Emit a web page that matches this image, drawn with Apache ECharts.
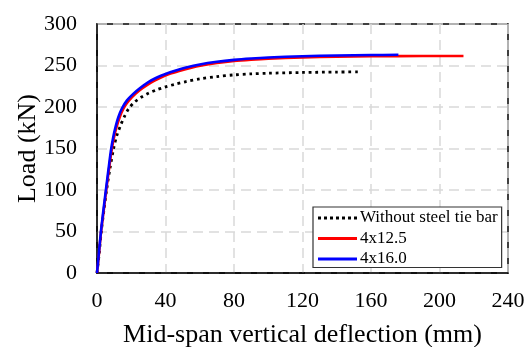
<!DOCTYPE html>
<html>
<head>
<meta charset="utf-8">
<script src="https://cdn.jsdelivr.net/npm/echarts@6/dist/echarts.min.js"></script>
<style>
  html, body { margin: 0; padding: 0; background: #fff; overflow: hidden; }
  #chart { width: 526px; height: 347px; }
</style>
</head>
<body>
<div id="chart"></div>
<script>
// Load–deflection curves: [deflection (mm), load (kN)]
const seriesNames = ['Without steel tie bar', '4x12.5', '4x16.0'];

const withoutTieBar = [
  [0, 0], [1.2, 22], [2.5, 50], [4, 75], [5.6, 100], [7.5, 125], [9.7, 150],
  [11.5, 165], [13.6, 177], [16, 188.5], [18.5, 198], [22, 206], [26, 212],
  [30, 216.5], [34.6, 220.5], [40, 224.3], [45.4, 227.3], [52, 230.6],
  [60, 233.8], [70, 236.7], [80, 238.7], [90, 239.9], [100, 240.7],
  [120, 241.6], [140, 242.1], [154, 242.3]
];

const bar12_5 = [
  [0, 0], [1.1, 22], [2.4, 50], [3.9, 75], [5.4, 100], [7, 125], [8.7, 150],
  [10, 164], [11.3, 175], [13.3, 188], [15.5, 198.5], [18.6, 207.5], [22.3, 215.5],
  [26.5, 222.5], [31.5, 229.5], [37, 235.3], [42.5, 240], [48, 243.5],
  [54, 246.8], [61, 250], [70, 253], [80, 255.5], [90, 257.1], [100, 258.3],
  [120, 259.8], [140, 260.6], [160, 261.1], [190, 261.4], [214, 261.5]
];

const bar16_0 = [
  [0, 0], [1, 22], [2.3, 50], [3.7, 75], [5.2, 100], [6.7, 125], [8.3, 150],
  [9.5, 164], [10.7, 175], [12.5, 188], [14.6, 198.5], [17.5, 208], [21, 215.5],
  [25, 222.5], [30, 230], [35, 235.5], [40, 239.8], [46, 244], [52, 247.6],
  [60, 251.3], [70, 254.5], [80, 256.8], [90, 258.4], [100, 259.6],
  [120, 261.2], [140, 262.1], [160, 262.6], [176, 262.9]
];

const xTicks = [0, 40, 80, 120, 160, 200, 240];
const yTicks = [0, 50, 100, 150, 200, 250, 300];

const font = '"Liberation Serif", "Times New Roman", serif';
const gridLine = { show: true, lineStyle: { color: '#d9d9d9', width: 1.5, type: [10, 6] } };

// legend keys: a solid bar for the plain lines, a row of square dots for the dotted one
const solidKey = 'path://M0,0 L39,0 L39,3 L0,3 Z';
const dottedKey = 'path://M0,0h3v3h-3z M6,0h3v3h-3z M12,0h3v3h-3z M18,0h3v3h-3z M24,0h3v3h-3z M30,0h3v3h-3z M36,0h3v3h-3z';

const chart = echarts.init(document.getElementById('chart'), null, { renderer: 'canvas' });

chart.setOption({
  animation: false,
  backgroundColor: '#fff',
  grid: {
    left: 97, top: 24, right: 18, bottom: 74,
    outerBoundsMode: 'none',
    containLabel: false,
    show: true, borderColor: '#000', borderWidth: 1.5, backgroundColor: 'transparent'
  },
  legend: {
    orient: 'vertical',
    left: 313, top: 207,
    padding: [2.5, 4, 0, 5],
    backgroundColor: '#fff',
    borderColor: '#333',
    borderWidth: 1.2,
    itemWidth: 39,
    itemHeight: 3,
    itemGap: 3.5,
    textStyle: { fontFamily: font, fontSize: 17, color: '#000', padding: [0, 0, 0, -2] },
    data: [
      { name: seriesNames[0], icon: dottedKey },
      { name: seriesNames[1], icon: solidKey },
      { name: seriesNames[2], icon: solidKey }
    ]
  },
  xAxis: {
    type: 'value',
    min: xTicks[0], max: xTicks[xTicks.length - 1], interval: 40,
    name: 'Mid-span vertical deflection (mm)',
    nameLocation: 'middle', nameGap: 49, nameMoveOverlap: false,
    nameTextStyle: { fontFamily: font, fontSize: 26, color: '#000' },
    axisLine: { show: true, lineStyle: { color: '#000', width: 1.5 } },
    axisTick: { show: false },
    axisLabel: { fontFamily: font, fontSize: 22, color: '#000', margin: 17 },
    splitLine: gridLine
  },
  yAxis: {
    type: 'value',
    min: yTicks[0], max: yTicks[yTicks.length - 1], interval: 50,
    name: 'Load (kN)',
    nameLocation: 'middle', nameGap: 56, nameMoveOverlap: false,
    nameTextStyle: { fontFamily: font, fontSize: 26, color: '#000' },
    axisLine: { show: true, lineStyle: { color: '#000', width: 1.5 } },
    axisTick: { show: false },
    axisLabel: { fontFamily: font, fontSize: 22, color: '#000', margin: 20 },
    splitLine: gridLine
  },
  series: [
    {
      name: seriesNames[0], type: 'line', data: withoutTieBar,
      showSymbol: false, symbol: 'none', smooth: 0.3,
      lineStyle: { color: '#000', width: 2.8, type: [2.8, 3.8] },
      itemStyle: { color: '#000' }, z: 2
    },
    {
      name: seriesNames[1], type: 'line', data: bar12_5,
      showSymbol: false, symbol: 'none', smooth: 0.3,
      lineStyle: { color: '#ff0000', width: 2.6 },
      itemStyle: { color: '#ff0000' }, z: 3
    },
    {
      name: seriesNames[2], type: 'line', data: bar16_0,
      showSymbol: false, symbol: 'none', smooth: 0.3,
      lineStyle: { color: '#0000ff', width: 2.6 },
      itemStyle: { color: '#0000ff' }, z: 4
    }
  ]
});
</script>
</body>
</html>
